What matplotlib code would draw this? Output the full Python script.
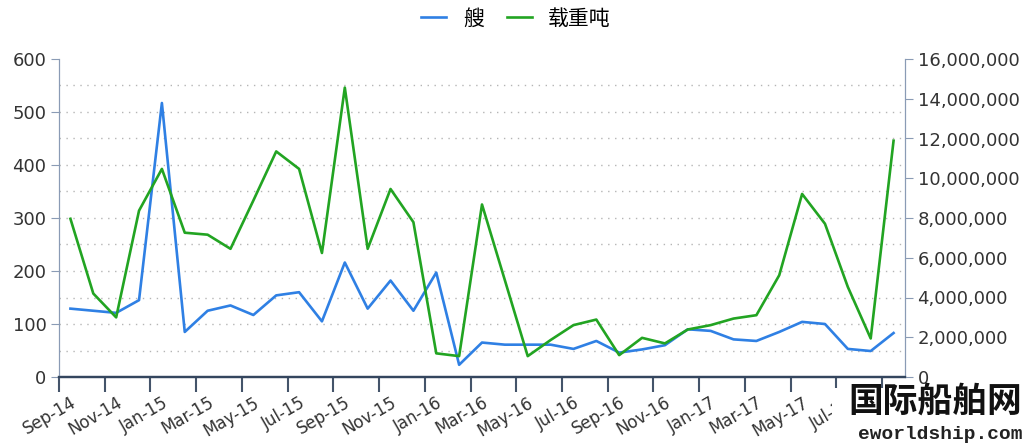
import matplotlib
matplotlib.use("Agg")
from matplotlib import pyplot as plt
from matplotlib.patches import Rectangle
from matplotlib.ticker import FuncFormatter, MultipleLocator

# monthly data Sep-14 .. Sep-17
ships = [129, 125, 121, 145, 517, 85, 125, 135, 117, 154, 160, 105, 216,
         129, 182, 125, 197, 23, 65, 61, 61, 61, 53, 68, 46, 52, 60, 90,
         87, 71, 68, 85, 104, 100, 53, 49, 83]
dwt = [7960000, 4200000, 3000000, 8370000, 10470000, 7260000, 7160000,
       6450000, 8880000, 11350000, 10470000, 6240000, 14560000, 6450000,
       9460000, 7790000, 1190000, 1050000, 8680000, 4870000, 1050000,
       1860000, 2610000, 2890000, 1100000, 1970000, 1690000, 2390000,
       2610000, 2940000, 3110000, 5120000, 9210000, 7710000, 4530000,
       1940000, 11890000]
tick_labels = ["Sep-14", "Nov-14", "Jan-15", "Mar-15", "May-15", "Jul-15",
               "Sep-15", "Nov-15", "Jan-16", "Mar-16", "May-16", "Jul-16",
               "Sep-16", "Nov-16", "Jan-17", "Mar-17", "May-17", "Jul-17",
               "Sep-17"]

BLUE = "#2f80e4"
GREEN = "#22a422"
AXIS = "#8a9bb5"

fig = plt.figure(figsize=(10.22, 4.44), dpi=100)
ax = fig.add_axes([59 / 1022, 67 / 444, 846 / 1022, 318 / 444])
ax2 = ax.twinx()

x = list(range(len(ships)))
l1, = ax.plot(x, ships, color=BLUE, lw=1.9, label="艘")
l2, = ax2.plot(x, dwt, color=GREEN, lw=1.9, label="载重吨")

ax.set_xlim(-0.5, len(ships) - 0.5)
ax.set_ylim(0, 600)
ax2.set_ylim(0, 16000000)
ax.yaxis.set_major_locator(MultipleLocator(100))
ax2.yaxis.set_major_locator(MultipleLocator(2000000))
ax2.yaxis.set_major_formatter(FuncFormatter(lambda v, p: "{:,.0f}".format(v)))

# dotted grid every 50
for v in range(50, 600, 50):
    ax.axhline(v, color="#b5b5b5", lw=1.0, ls=(0, (1, 4)), zorder=0)

# ticks on category boundaries, labels at centers
ax.set_xticks([i - 0.5 for i in range(0, len(ships), 2)])
ax.set_xticklabels([])
ax.set_xticks(list(range(0, len(ships), 2)), minor=True)
ax.set_xticklabels(tick_labels, minor=True, rotation=30, ha="right",
                   va="top", rotation_mode="anchor", fontsize=12,
                   color="#333333", family="DejaVu Sans")
ax.tick_params(axis="x", which="major", length=11, width=1.5, color="#44546a")
ax.tick_params(axis="x", which="minor", length=0, pad=12)

ax.tick_params(axis="y", length=6, color=AXIS, labelsize=13, labelcolor="#333333", pad=3)
ax2.tick_params(axis="y", length=6, color=AXIS, labelsize=13, labelcolor="#333333", pad=3)

for a in (ax, ax2):
    a.spines["top"].set_visible(False)
    a.spines["left"].set_color(AXIS)
    a.spines["right"].set_color(AXIS)
    a.spines["bottom"].set_color("#34465e")
    a.spines["bottom"].set_linewidth(1.6)

fig.legend([l1, l2], ["艘", "载重吨"], loc="center", bbox_to_anchor=(0.505, 0.958),
           ncol=2, frameon=False, handlelength=1.2, handletextpad=0.8,
           columnspacing=1.1, prop={"family": "Noto Sans CJK SC", "size": 15})

# watermark (white patch hides labels underneath)
fig.patches.append(Rectangle((832 / 1022, 0), 190 / 1022, 56 / 444,
                             transform=fig.transFigure, facecolor="white",
                             edgecolor="none", zorder=5))
fig.text(1.0, 0.097, "国际船舶网", ha="right", va="center", fontsize=25,
         fontweight="bold", family="Noto Sans CJK SC", color="#111111", zorder=6)
fig.text(1.0, 0.022, "eworldship.com", ha="right", va="center", fontsize=14,
         fontweight="bold", family="Liberation Mono", color="#222222", zorder=6)

fig.savefig("out.png", dpi=100)
